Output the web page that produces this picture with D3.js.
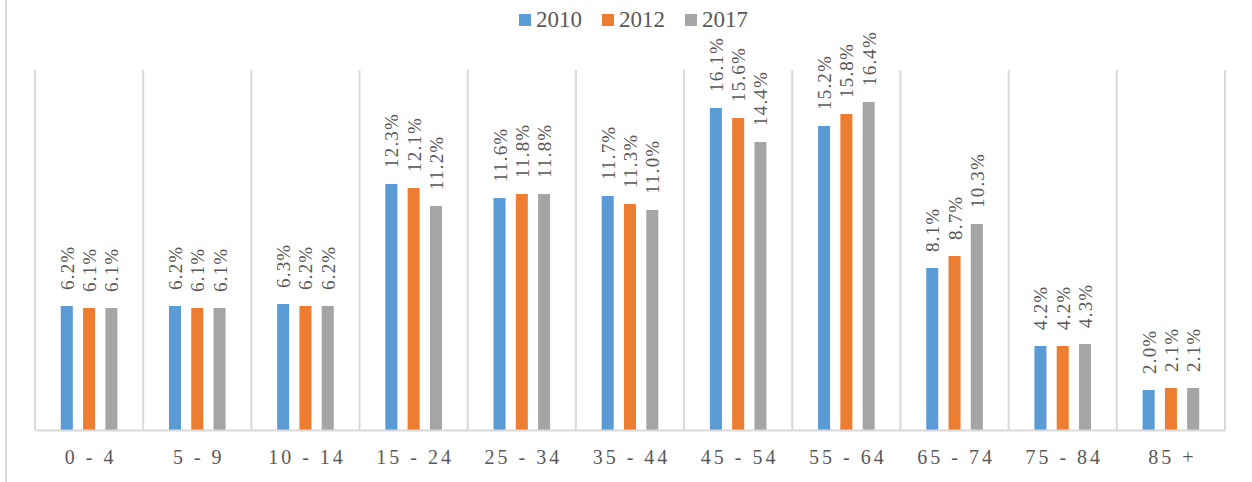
<!DOCTYPE html>
<html><head><meta charset="utf-8">
<script src="https://cdn.jsdelivr.net/npm/d3@7"></script>
<style>body{margin:0;background:#fff}svg{display:block}</style>
</head><body>
<script>
const categories = ["0 - 4","5 - 9","10 - 14","15 - 24","25 - 34","35 - 44","45 - 54","55 - 64","65 - 74","75 - 84","85 +"];
const seriesNames = ["2010","2012","2017"];
const s2010 = [6.2,6.2,6.3,12.3,11.6,11.7,16.1,15.2,8.1,4.2,2.0];
const s2012 = [6.1,6.1,6.2,12.1,11.8,11.3,15.6,15.8,8.7,4.2,2.1];
const s2017 = [6.1,6.1,6.2,11.2,11.8,11.0,14.4,16.4,10.3,4.3,2.1];
const colors = ["#5b9bd5","#ed7d31","#a5a5a5"];
const series = [s2010,s2012,s2017];

const W=1252,H=482;
const svg=d3.select("body").append("svg").attr("width",W).attr("height",H);
const pLeft=35,pRight=1225,pTop=70,pBottom=430;
const x=d3.scaleBand().domain(categories).range([pLeft,pRight]);
const xs=d3.scaleBand().domain(seriesNames).range([0,x.bandwidth()]).paddingInner(0.46).paddingOuter(1.157);
const y=d3.scaleLinear().domain([0,18]).range([pBottom,pTop]);

// left border
svg.append("line").attr("x1",6).attr("x2",6).attr("y1",0).attr("y2",H).attr("stroke","#d9d9d9").attr("stroke-width",2);

// vertical gridlines at category boundaries
const bounds=categories.map(c=>x(c)).concat([pRight]);
svg.selectAll("line.grid").data(bounds).enter().append("line")
 .attr("x1",d=>d).attr("x2",d=>d).attr("y1",pTop).attr("y2",pBottom)
 .attr("stroke","#d9d9d9").attr("stroke-width",2);

const ff="'Liberation Serif','Times New Roman',serif";
series.forEach((vals,si)=>{
  const g=svg.append("g");
  g.selectAll("rect").data(vals).enter().append("rect")
   .attr("x",(d,i)=>x(categories[i])+xs(seriesNames[si]))
   .attr("width",xs.bandwidth())
   .attr("y",d=>y(d)).attr("height",d=>pBottom-y(d))
   .attr("fill",colors[si]);
  g.selectAll("text").data(vals).enter().append("text")
   .attr("transform",(d,i)=>`translate(${x(categories[i])+xs(seriesNames[si])+xs.bandwidth()/2+7},${y(d)-16}) rotate(-90)`)
   .attr("font-family",ff).attr("font-size",19).attr("letter-spacing",1.2)
   .attr("fill","#595959")
   .text(d=>d.toFixed(1)+"%");
});

// x axis
const xa=svg.append("g").attr("transform",`translate(0,${pBottom})`).call(d3.axisBottom(x).tickSize(0).tickPadding(20));
xa.select(".domain").attr("stroke","#d9d9d9").attr("stroke-width",2);
xa.selectAll("text").attr("font-family",ff).attr("font-size",20).attr("letter-spacing",3).attr("fill","#595959")
  .attr("dy",null).attr("y",34).attr("dx",1.5);

// legend
const leg=svg.append("g");
const lx=[519,602,685];
seriesNames.forEach((n,i)=>{
  leg.append("rect").attr("x",lx[i]).attr("y",14).attr("width",12).attr("height",12).attr("fill",colors[i]);
  leg.append("text").attr("x",lx[i]+17).attr("y",26.7).attr("font-family",ff).attr("font-size",23).attr("fill","#595959").text(n);
});
</script>
</body></html>
